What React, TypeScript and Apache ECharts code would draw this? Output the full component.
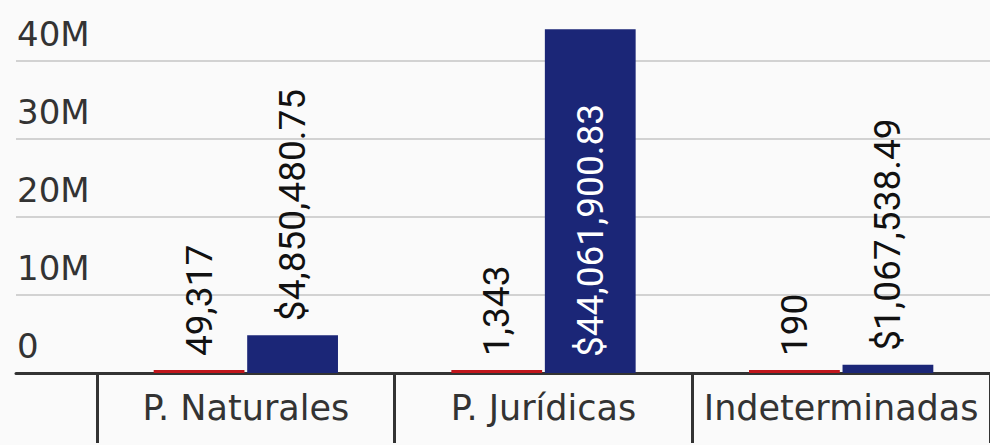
import React, { useEffect, useRef } from "react";
import * as echarts from "echarts";

// Personas / monto por tipo de persona
const categories = ["P. Naturales", "P. Jurídicas", "Indeterminadas"];
const counts = [49317, 1343, 190];
const amounts = [4850480.75, 44061900.83, 1067538.49];
const yTicks = [0, 10000000, 20000000, 30000000, 40000000];

const NAVY = "#1b2677";
const RED = "#c0161c";
const INK = "#333333";
const AXIS_FONT = "'DejaVu Sans', 'Noto Sans', sans-serif";
const LABEL_FONT = "Roboto, 'Liberation Sans', sans-serif";

const fmtCount = (v: number) => v.toLocaleString("en-US");
const fmtMoney = (v: number) =>
  "$" + v.toLocaleString("en-US", { minimumFractionDigits: 2, maximumFractionDigits: 2 });

export default function App() {
  const ref = useRef<HTMLDivElement>(null);

  useEffect(() => {
    if (!ref.current) return;
    const chart = echarts.init(ref.current, null, { renderer: "svg" });

    const yMax = yTicks[yTicks.length - 1];
    const yStep = yTicks[1] - yTicks[0];

    const valueLabel = {
      show: true,
      position: "top",
      rotate: 90,
      align: "left",
      verticalAlign: "middle",
      distance: 14,
      color: "#111",
      fontFamily: LABEL_FONT,
      fontSize: 37,
    };

    chart.setOption({
      animation: false,
      backgroundColor: "#fafafa",
      grid: [
        { left: 16, right: -5, top: 61, bottom: 72 },
        { left: 97, right: -3, top: 61, bottom: 72 },
      ],
      xAxis: [
        {
          type: "category",
          gridIndex: 0,
          data: [""],
          axisLine: { show: true, lineStyle: { color: INK, width: 3 } },
          axisTick: { show: false },
          axisLabel: { show: false },
        },
        {
          type: "category",
          gridIndex: 1,
          data: categories,
          axisLine: { show: false },
          axisTick: {
            show: true,
            interval: 0,
            length: 70,
            lineStyle: { color: INK, width: 3 },
          },
          axisLabel: {
            interval: 0,
            color: INK,
            fontFamily: AXIS_FONT,
            fontSize: 35,
            margin: 17,
          },
        },
      ],
      yAxis: [
        {
          type: "value",
          gridIndex: 0,
          min: 0,
          max: yMax,
          interval: yStep,
          axisLine: { show: false },
          axisTick: { show: false },
          splitLine: { lineStyle: { color: "#d2d2d2", width: 2 } },
          axisLabel: {
            inside: true,
            margin: 1,
            verticalAlign: "bottom",
            padding: [0, 0, 10, 0],
            color: INK,
            fontFamily: AXIS_FONT,
            fontSize: 34,
            formatter: (v: number) => (v === 0 ? "0" : v / 1000000 + "M"),
          },
        },
        {
          type: "value",
          gridIndex: 1,
          min: 0,
          max: yMax,
          interval: yStep,
          show: false,
          splitLine: { show: false },
        },
      ],
      series: [
        {
          type: "bar",
          xAxisIndex: 1,
          yAxisIndex: 1,
          clip: false,
          barWidth: "30.5%",
          barGap: "3%",
          barMinHeight: 3,
          itemStyle: { color: RED },
          data: counts,
          label: { ...valueLabel, formatter: (p: any) => fmtCount(p.value) },
        },
        {
          type: "bar",
          xAxisIndex: 1,
          yAxisIndex: 1,
          clip: false,
          barWidth: "30.5%",
          barGap: "3%",
          itemStyle: { color: NAVY },
          data: amounts.map((v) =>
            v > yMax * 0.5
              ? {
                  value: v,
                  label: { position: "insideBottom", distance: 16, color: "#ffffff" },
                }
              : v
          ),
          label: { ...valueLabel, formatter: (p: any) => fmtMoney(p.value) },
        },
      ],
    });

    return () => chart.dispose();
  }, []);

  return (
    <div
      ref={ref}
      style={{ position: "fixed", left: 0, top: 0, width: 990, height: 445 }}
    />
  );
}
